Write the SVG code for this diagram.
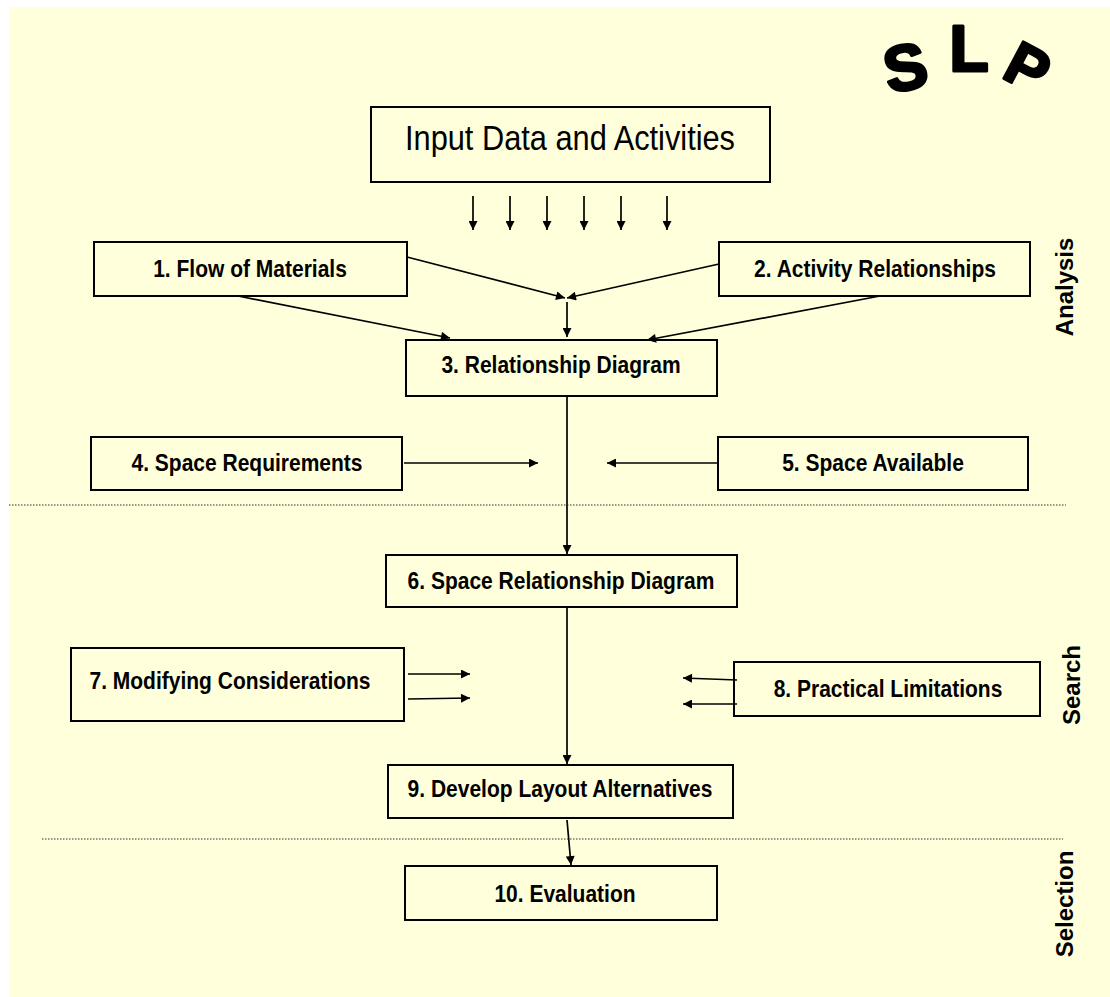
<svg xmlns="http://www.w3.org/2000/svg" width="1110" height="997" viewBox="0 0 1110 997">
<defs>
<marker id="ah" viewBox="0 0 10 10" refX="10" refY="5" markerWidth="12" markerHeight="9" markerUnits="userSpaceOnUse" orient="auto">
<path d="M0,0 L10,5 L0,10 z" fill="#000"/>
</marker>
</defs>
<style>
.box{fill:#FFFFDC;stroke:#000;stroke-width:2}
.lbl{font-family:"Liberation Sans",Arial,sans-serif;font-weight:bold;font-size:23px;fill:#000;text-anchor:middle}
.side{font-family:"Liberation Sans",Arial,sans-serif;font-weight:bold;font-size:24px;fill:#000;text-anchor:middle}
.arr{stroke:#000;stroke-width:1.7;fill:none;marker-end:url(#ah)}
.dot{stroke:#333;stroke-width:1.2;stroke-dasharray:1.5 1.5;fill:none}
.logo{font-family:"Liberation Sans",Arial,sans-serif;font-weight:bold;fill:#000;stroke:#000;stroke-width:3;stroke-linejoin:round;text-anchor:middle}
</style>
<rect x="0" y="0" width="1110" height="997" fill="#fff"/>
<rect x="9" y="7" width="1101" height="990" fill="#FFFFDC"/>

<g id="logo">
<text class="logo" font-size="64" transform="translate(910,89) rotate(-12)">S</text>
<text class="logo" font-size="64" transform="translate(969,71)">L</text>
<text class="logo" font-size="60" transform="translate(1018,86) rotate(28)">P</text>
</g>

<g id="n0"><rect class="box" x="371" y="107" width="399" height="75"/>
<text x="570" y="150" font-family="Liberation Sans,Arial,sans-serif" font-size="35" text-anchor="middle" textLength="330" lengthAdjust="spacingAndGlyphs">Input Data and Activities</text></g>
<g id="n1"><rect class="box" x="94" y="242" width="313" height="54"/><text class="lbl" transform="translate(250,277) scale(0.913,1)">1. Flow of Materials</text></g>
<g id="n2"><rect class="box" x="719" y="242" width="311" height="54"/><text class="lbl" transform="translate(875,277) scale(0.913,1)">2. Activity Relationships</text></g>
<g id="n3"><rect class="box" x="406" y="340" width="311" height="56"/><text class="lbl" transform="translate(561,373) scale(0.913,1)">3. Relationship Diagram</text></g>
<g id="n4"><rect class="box" x="91" y="437" width="311" height="53"/><text class="lbl" transform="translate(247,471) scale(0.913,1)">4. Space Requirements</text></g>
<g id="n5"><rect class="box" x="718" y="437" width="310" height="53"/><text class="lbl" transform="translate(873,471) scale(0.913,1)">5. Space Available</text></g>
<g id="n6"><rect class="box" x="386" y="555" width="351" height="52"/><text class="lbl" transform="translate(561,589) scale(0.913,1)">6. Space Relationship Diagram</text></g>
<g id="n7"><rect class="box" x="71" y="648" width="333" height="73"/><text class="lbl" transform="translate(230,689) scale(0.913,1)">7. Modifying Considerations</text></g>
<g id="n8"><rect class="box" x="734" y="662" width="306" height="54"/><text class="lbl" transform="translate(888,697) scale(0.913,1)">8. Practical Limitations</text></g>
<g id="n9"><rect class="box" x="388" y="765" width="345" height="53"/><text class="lbl" transform="translate(560,797) scale(0.913,1)">9. Develop Layout Alternatives</text></g>
<g id="n10"><rect class="box" x="405" y="866" width="312" height="54"/><text class="lbl" transform="translate(565,902) scale(0.913,1)">10. Evaluation</text></g>

<g id="connectors">
<line class="arr" x1="473" y1="196" x2="473" y2="230"/>
<line class="arr" x1="510" y1="196" x2="510" y2="230"/>
<line class="arr" x1="547" y1="196" x2="547" y2="230"/>
<line class="arr" x1="584" y1="196" x2="584" y2="230"/>
<line class="arr" x1="621" y1="196" x2="621" y2="230"/>
<line class="arr" x1="667" y1="196" x2="667" y2="230"/>
<line class="arr" x1="407" y1="257" x2="565" y2="298"/>
<line class="arr" x1="719" y1="264" x2="567" y2="298"/>
<line class="arr" x1="567" y1="302" x2="567" y2="337"/>
<line class="arr" x1="238" y1="296" x2="450" y2="338"/>
<line class="arr" x1="880" y1="296" x2="647" y2="340"/>
<line class="arr" x1="567" y1="396" x2="567" y2="554"/>
<line class="arr" x1="404" y1="463" x2="538" y2="463"/>
<line class="arr" x1="718" y1="463" x2="607" y2="463"/>
<line class="arr" x1="567" y1="607" x2="567" y2="764"/>
<line class="arr" x1="408" y1="674" x2="470" y2="674"/>
<line class="arr" x1="408" y1="699" x2="470" y2="698"/>
<line class="arr" x1="737" y1="680" x2="683" y2="678"/>
<line class="arr" x1="737" y1="704" x2="683" y2="704"/>
<line class="arr" x1="567" y1="820" x2="571" y2="865"/>
</g>

<g id="dividers">
<line class="dot" x1="9" y1="505" x2="1066" y2="505"/>
<line class="dot" x1="42" y1="839" x2="1063" y2="839"/>
</g>

<g id="phases">
<text class="side" transform="translate(1073,287) rotate(-90)">Analysis</text>
<text class="side" transform="translate(1080,685) rotate(-90)">Search</text>
<text class="side" transform="translate(1073,904) rotate(-90)">Selection</text>
</g>
</svg>
